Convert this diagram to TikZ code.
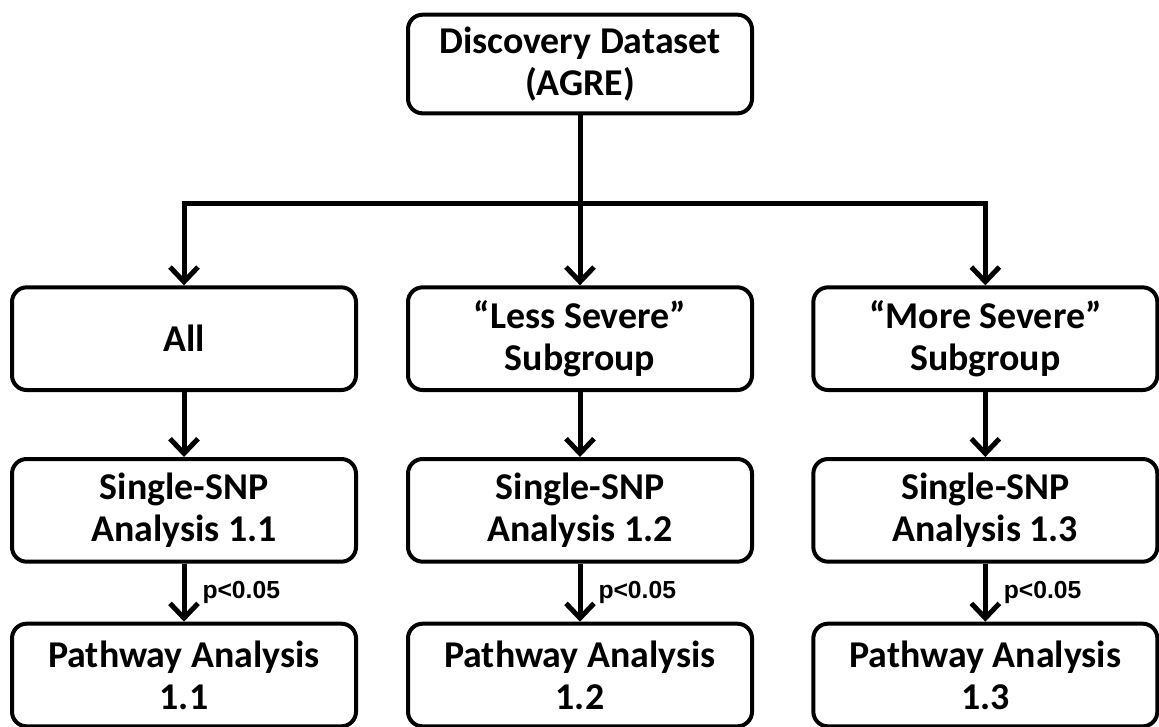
\documentclass[tikz,border=0pt]{standalone}
\usepackage{fontspec}
\setmainfont{Carlito}
\newfontfamily\pfont{Liberation Sans}
\usepackage{tikz}
\usetikzlibrary{positioning, arrows.meta}
\tikzset{
  block/.style={rectangle, rounded corners=11pt, draw, line width=3pt, minimum width=258pt, minimum height=77pt, align=center, font=\fontsize{28.4}{31.5}\selectfont\bfseries, inner sep=2pt},
  trunk/.style={line width=3.75pt},
  arrow/.style={line width=3.75pt, -{Straight Barb[length=11pt, width=21pt]}},
  pval/.style={font=\pfont\fontsize{18.5}{20}\selectfont\bfseries, inner sep=0pt},
}
\begin{document}
\begin{tikzpicture}[x=0.75pt, y=-0.75pt, node distance=48.75pt and 36pt]
  \useasboundingbox (0,0) rectangle (1159,726);

  % Nodes
  \node[block, minimum height=74pt] (dataset) at (580,64) {Discovery Dataset\\(AGRE)};
  \node[block, below=127.5pt of dataset] (less) {“Less Severe”\\Subgroup};
  \node[block, left=of less] (all) {All};
  \node[block, right=43pt of less] (more) {“More Severe”\\Subgroup};

  \node[block, below=of all] (snpall) {Single-SNP\\Analysis 1.1};
  \node[block, below=of less] (snpless) {Single-SNP\\Analysis 1.2};
  \node[block, below=of more] (snpmore) {Single-SNP\\Analysis 1.3};

  \node[block, below=43.5pt of snpall] (pathall) {Pathway Analysis\\1.1};
  \node[block, below=43.5pt of snpless] (pathless) {Pathway Analysis\\1.2};
  \node[block, below=43.5pt of snpmore] (pathmore) {Pathway Analysis\\1.3};

  \coordinate[below=66pt of dataset.south] (split);

  % Arrows
  \draw[trunk] (dataset) -- (split);
  \draw[arrow] (split) -| (all);
  \draw[arrow] (split) -- (less);
  \draw[arrow] (split) -| (more);

  \draw[arrow] (all) -- (snpall);
  \draw[arrow] (less) -- (snpless);
  \draw[arrow] (more) -- (snpmore);

  \draw[arrow] (snpall) -- node[pval, right=12pt] (pall) {p<0.05} (pathall);
  \draw[arrow] (snpless) -- node[pval, right=12pt] (pless) {p<0.05} (pathless);
  \draw[arrow] (snpmore) -- node[pval, right=12pt] (pmore) {p<0.05} (pathmore);

\end{tikzpicture}
\end{document}
